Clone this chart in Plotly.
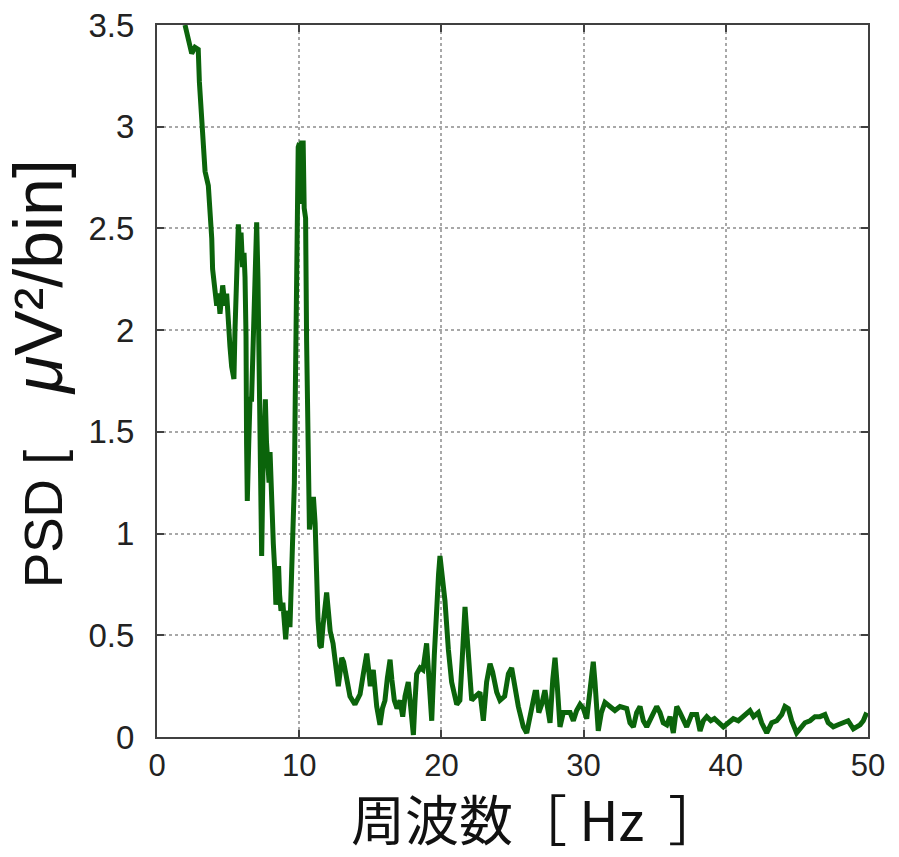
import plotly.graph_objects as go

# Power spectral density of the recorded signal, 2-50 Hz
freq_hz = [
    1.97, 2.32, 2.44, 2.67, 2.90, 2.98, 3.07, 3.26, 3.38, 3.61, 3.73, 3.85, 3.91,
    4.08, 4.20, 4.31, 4.43, 4.62, 4.78, 4.90, 5.01, 5.13, 5.25, 5.41, 5.48, 5.56,
    5.65, 5.72, 5.84, 5.91, 6.02, 6.12, 6.19, 6.26, 6.30, 6.35, 6.45, 6.54, 6.65,
    6.77, 6.89, 7.01, 7.10, 7.17, 7.24, 7.36, 7.45, 7.55, 7.62, 7.70, 7.78, 7.88,
    7.95, 8.05, 8.18, 8.28, 8.36, 8.45, 8.55, 8.62, 8.72, 8.85, 8.95, 9.05, 9.15,
    9.25, 9.35, 9.45, 9.52, 9.60, 9.66, 9.72, 9.80, 9.85, 9.93, 10.02, 10.10,
    10.18, 10.28, 10.35, 10.45, 10.52, 10.60, 10.72, 10.85, 11.00, 11.12, 11.22,
    11.32, 11.45, 11.55, 11.68, 11.80, 11.93, 12.05, 12.18, 12.38, 12.55, 12.75,
    12.88, 12.99, 13.12, 13.34, 13.57, 13.92, 14.28, 14.51, 14.75, 14.90, 15.00,
    15.10, 15.21, 15.45, 15.68, 15.85, 16.03, 16.20, 16.39, 16.52, 16.69, 16.88,
    17.09, 17.28, 17.44, 17.67, 17.86, 18.03, 18.14, 18.26, 18.50, 18.70, 18.96,
    19.10, 19.32, 19.50, 19.67, 19.80, 19.90, 20.05, 20.25, 20.49, 20.72, 21.08,
    21.30, 21.47, 21.66, 21.80, 21.96, 22.13, 22.40, 22.71, 22.95, 23.18, 23.42,
    23.60, 23.89, 24.12, 24.45, 24.71, 24.94, 25.15, 25.41, 25.76, 26.00, 26.23,
    26.46, 26.58, 26.70, 26.85, 27.05, 27.28, 27.45, 27.64, 27.83, 27.99, 28.15,
    28.34, 28.57, 28.81, 29.05, 29.28, 29.51, 29.75, 29.98, 30.22, 30.45, 30.68,
    30.80, 30.92, 31.03, 31.25, 31.50, 31.85, 32.20, 32.56, 33.03, 33.26, 33.50,
    33.73, 33.97, 34.20, 34.44, 34.79, 35.14, 35.37, 35.60, 35.85, 36.08, 36.31,
    36.55, 36.78, 37.01, 37.25, 37.60, 37.95, 38.19, 38.42, 38.66, 38.95, 39.20,
    39.47, 39.83, 40.18, 40.53, 40.88, 41.23, 41.45, 41.70, 41.95, 42.29, 42.52,
    42.88, 43.23, 43.58, 43.93, 44.16, 44.40, 44.63, 44.98, 45.22, 45.57, 45.92,
    46.27, 46.62, 46.97, 47.20, 47.56, 47.90, 48.26, 48.60, 48.97, 49.20, 49.44,
    49.67, 49.91,
]

psd = [
    3.50, 3.39, 3.36, 3.39, 3.38, 3.22, 3.11, 2.90, 2.78, 2.71, 2.60, 2.45, 2.30,
    2.20, 2.12, 2.18, 2.08, 2.22, 2.12, 2.18, 1.99, 1.92, 1.82, 1.76, 1.99, 2.15,
    2.39, 2.52, 2.39, 2.48, 2.31, 2.38, 2.26, 1.97, 1.44, 1.16, 1.44, 1.66, 1.66,
    2.02, 2.34, 2.53, 2.25, 1.71, 1.20, 0.89, 1.30, 1.60, 1.66, 1.45, 1.36, 1.25,
    1.40, 1.15, 0.95, 0.82, 0.65, 0.72, 0.84, 0.70, 0.62, 0.66, 0.55, 0.48, 0.58,
    0.62, 0.54, 0.72, 0.90, 1.02, 1.25, 1.65, 2.20, 2.51, 2.90, 2.92, 2.62,
    2.92, 2.92, 2.60, 2.55, 1.95, 1.35, 1.02, 1.10, 1.18, 1.05, 0.80,
    0.58, 0.45, 0.44, 0.55, 0.62, 0.71, 0.62, 0.52, 0.46, 0.36, 0.25,
    0.32, 0.39, 0.37, 0.27, 0.20, 0.16, 0.21, 0.31, 0.41, 0.32, 0.25,
    0.30, 0.33, 0.15, 0.06, 0.14, 0.18, 0.29, 0.38, 0.28, 0.18, 0.14,
    0.18, 0.10, 0.20, 0.27, 0.15, 0.01, 0.17, 0.31, 0.34, 0.33, 0.46,
    0.30, 0.08, 0.40, 0.67, 0.80, 0.89, 0.80, 0.67, 0.43, 0.27, 0.16,
    0.18, 0.39, 0.64, 0.50, 0.31, 0.18, 0.20, 0.22, 0.08, 0.27, 0.36,
    0.32, 0.22, 0.18, 0.20, 0.31, 0.34, 0.25, 0.15, 0.05, 0.02, 0.10,
    0.17, 0.22, 0.22, 0.12, 0.16, 0.23, 0.15, 0.07, 0.28, 0.39, 0.25,
    0.05, 0.12, 0.12, 0.12, 0.08, 0.13, 0.16, 0.14, 0.09, 0.22, 0.37,
    0.27, 0.13, 0.03, 0.12, 0.17, 0.15, 0.13, 0.15, 0.14, 0.07, 0.05,
    0.12, 0.15, 0.08, 0.05, 0.10, 0.15, 0.12, 0.07, 0.06, 0.10, 0.02,
    0.15, 0.12, 0.08, 0.05, 0.11, 0.11, 0.03, 0.08, 0.10, 0.08, 0.09,
    0.07, 0.05, 0.07, 0.09, 0.08, 0.10, 0.12, 0.13, 0.10, 0.12, 0.07,
    0.02, 0.07, 0.08, 0.11, 0.15, 0.14, 0.08, 0.02, 0.04, 0.07, 0.08,
    0.10, 0.10, 0.11, 0.07, 0.05, 0.06, 0.07, 0.08, 0.04, 0.05, 0.06,
    0.08, 0.12,
]

x_ticks = [0, 10, 20, 30, 40, 50]
y_ticks = [0, 0.5, 1, 1.5, 2, 2.5, 3, 3.5]
y_tick_text = ["0", "0.5", "1", "1.5", "2", "2.5", "3", "3.5"]

fig = go.Figure()
fig.add_trace(go.Scatter(
    x=freq_hz, y=psd, mode="lines",
    line=dict(color="#0b640b", width=5),
    showlegend=False, cliponaxis=True,
))

frame = dict(
    showline=True, linecolor="#404040", linewidth=2, mirror="ticks",
    ticks="inside", ticklen=7, tickwidth=2, tickcolor="#404040",
    showgrid=True, gridcolor="#a8a8a8", gridwidth=1.5, griddash="dot",
    zeroline=False, automargin=False,
)

fig.update_xaxes(
    range=[0, 50], tickvals=x_ticks, **frame,
    tickfont=dict(family="Liberation Sans, Arial", size=31, color="#222222"),
    title=dict(text="&nbsp;&nbsp;&nbsp;&nbsp;周波数［ Hz&nbsp;&nbsp;］", standoff=31,
               font=dict(family="Noto Sans CJK JP, Liberation Sans", size=54, color="#111111")),
)
fig.update_yaxes(
    range=[0, 3.5], tickvals=y_ticks, ticktext=y_tick_text, **frame,
    ticklabelstandoff=14,
    tickfont=dict(family="Liberation Sans, Arial", size=33, color="#222222"),
    title=dict(
        text=("&nbsp;PSD [<span style='font-size:68px'>&nbsp;&nbsp;&nbsp;"
              "<i>μ</i>V²/bin]</span>"),
        standoff=12,
        font=dict(family="Liberation Sans, Arial", size=53, color="#111111"),
    ),
)

fig.update_layout(
    width=899, height=857,
    margin=dict(l=157, r=31, t=25, b=120),
    paper_bgcolor="white", plot_bgcolor="white",
)

fig.write_html("out.html")
